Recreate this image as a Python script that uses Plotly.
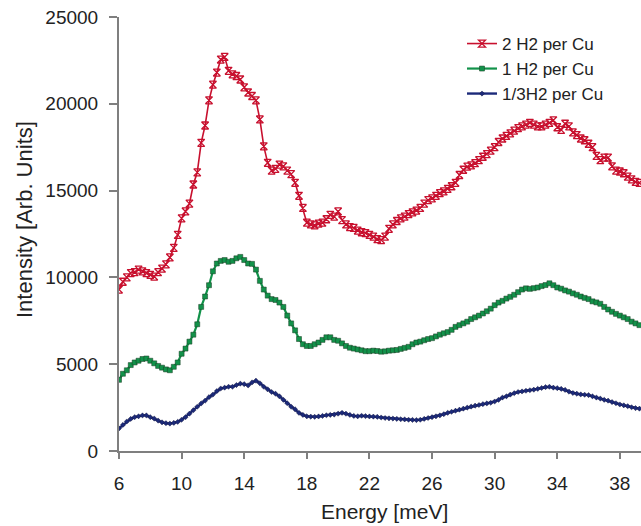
import plotly.graph_objects as go

energy = [
    6.0, 6.25, 6.5, 6.75, 7.0, 7.25, 7.5, 7.75,
    8.0, 8.25, 8.5, 8.75, 9.0, 9.25, 9.5, 9.75,
    10.0, 10.25, 10.5, 10.75, 11.0, 11.25, 11.5, 11.75,
    12.0, 12.25, 12.5, 12.75, 13.0, 13.25, 13.5, 13.75,
    14.0, 14.25, 14.5, 14.75, 15.0, 15.25, 15.5, 15.75,
    16.0, 16.25, 16.5, 16.75, 17.0, 17.25, 17.5, 17.75,
    18.0, 18.25, 18.5, 18.75, 19.0, 19.25, 19.5, 19.75,
    20.0, 20.25, 20.5, 20.75, 21.0, 21.25, 21.5, 21.75,
    22.0, 22.25, 22.5, 22.75, 23.0, 23.25, 23.5, 23.75,
    24.0, 24.25, 24.5, 24.75, 25.0, 25.25, 25.5, 25.75,
    26.0, 26.25, 26.5, 26.75, 27.0, 27.25, 27.5, 27.75,
    28.0, 28.25, 28.5, 28.75, 29.0, 29.25, 29.5, 29.75,
    30.0, 30.25, 30.5, 30.75, 31.0, 31.25, 31.5, 31.75,
    32.0, 32.25, 32.5, 32.75, 33.0, 33.25, 33.5, 33.75,
    34.0, 34.25, 34.5, 34.75, 35.0, 35.25, 35.5, 35.75,
    36.0, 36.25, 36.5, 36.75, 37.0, 37.25, 37.5, 37.75,
    38.0, 38.25, 38.5, 38.75, 39.0, 39.25,
]

h2_2_per_cu = [
    9300, 9750, 10000, 10250, 10300, 10450, 10350, 10250,
    10150, 10050, 10300, 10500, 10750, 11150, 11700, 12450,
    13400, 13800, 14250, 15350, 16050, 17750, 18750, 20200,
    21100, 21800, 22550, 22700, 21900, 21700, 21600, 21400,
    20950, 20650, 20450, 20200, 19100, 17550, 16600, 16150,
    16250, 16500, 16400, 16150, 15950, 15450, 14700, 14000,
    13150, 13050, 13000, 13100, 13150, 13350, 13600, 13500,
    13800, 13300, 13050, 12900, 12850, 12700, 12600, 12550,
    12450, 12350, 12200, 12150, 12350, 12800, 13050, 13250,
    13400, 13500, 13650, 13750, 13850, 14000, 14250, 14450,
    14550, 14700, 14850, 14950, 15100, 15250, 15450, 15900,
    16200, 16380, 16450, 16580, 16750, 16950, 17100, 17300,
    17500, 17800, 18000, 18150, 18300, 18450, 18600, 18700,
    18800, 18900, 18800, 18700, 18700, 18800, 18900, 19050,
    18650, 18500, 18850, 18700, 18350, 18200, 18000, 17900,
    17700, 17500, 17000, 16750, 16900, 16900, 16400, 16150,
    16100, 16000, 15800, 15650, 15500, 15450,
]

h2_1_per_cu = [
    4100, 4450, 4650, 4950, 5100, 5200, 5300, 5330,
    5200, 5050, 4900, 4800, 4700, 4650, 4850, 5100,
    5600, 5900, 6300, 6700, 7300, 8300, 8900, 9550,
    10350, 10800, 10950, 11000, 10900, 10950, 11100, 11180,
    11000, 10800, 10780, 10450, 9800, 9300, 8950, 8750,
    8700, 8550, 8300, 7800, 7350, 6950, 6450, 6150,
    6050, 6050, 6150, 6250, 6400, 6550, 6550, 6400,
    6350, 6200, 6050, 5950, 5900, 5850, 5800, 5750,
    5750, 5780, 5760, 5720, 5740, 5780, 5800, 5820,
    5880, 5940, 6000, 6150, 6250, 6300, 6380, 6450,
    6500, 6600, 6700, 6780, 6850, 6980, 7150, 7250,
    7350, 7450, 7600, 7700, 7800, 7920, 8050, 8200,
    8400, 8550, 8650, 8780, 8880, 9000, 9150, 9300,
    9370, 9340, 9380, 9420, 9500, 9560, 9660, 9550,
    9420, 9350, 9250, 9180, 9080, 9000, 8900, 8820,
    8750, 8620, 8560, 8480, 8300, 8150, 8020, 7900,
    7800, 7700, 7600, 7450, 7350, 7250,
]

h2_third_per_cu = [
    1300, 1500, 1700, 1850, 1950, 2000, 2050, 2050,
    1950, 1870, 1750, 1650, 1600, 1580, 1620, 1680,
    1800, 1950, 2150, 2350, 2550, 2740, 2900, 3100,
    3250, 3450, 3600, 3650, 3700, 3700, 3800, 3880,
    3850, 3780, 3950, 4050, 3900, 3700, 3550, 3400,
    3300, 3150, 2950, 2750, 2550, 2400, 2200, 2080,
    2000, 1980, 1970, 1990, 2020, 2060, 2080, 2100,
    2150, 2200, 2150, 2080, 2020, 2000, 2030, 2010,
    1990, 1980, 1970, 1930, 1900, 1880, 1870, 1850,
    1830, 1820, 1800, 1790, 1780, 1800, 1850, 1900,
    1950, 2000, 2050, 2120, 2200, 2260, 2320, 2380,
    2440, 2500, 2560, 2610, 2650, 2700, 2740, 2780,
    2850, 2950, 3080, 3150, 3250, 3330, 3400, 3430,
    3470, 3500, 3530, 3580, 3630, 3680, 3700, 3650,
    3620, 3580, 3520, 3420, 3340, 3300, 3260, 3240,
    3220, 3150, 3080, 3020, 2950, 2900, 2820, 2750,
    2680, 2630, 2580, 2520, 2470, 2440,
]

series_names = ["2 H2 per Cu", "1 H2 per Cu", "1/3H2 per Cu"]
x_ticks = [6, 10, 14, 18, 22, 26, 30, 34, 38]
y_ticks = [0, 5000, 10000, 15000, 20000, 25000]

assert len(energy) == len(h2_2_per_cu) == len(h2_1_per_cu) == len(h2_third_per_cu)

RED = "#c8102e"
GREEN = "#12924a"
BLUE = "#1c2a7a"

fig = go.Figure()
fig.add_trace(go.Scatter(
    x=energy, y=h2_2_per_cu, name=series_names[0], mode="lines+markers",
    legend="legend",
    line=dict(color=RED, width=1.6),
    marker=dict(symbol="hourglass-open", size=7, color=RED, line=dict(color=RED, width=1.3)),
))
fig.add_trace(go.Scatter(
    x=energy, y=h2_1_per_cu, name=series_names[1], mode="lines+markers",
    legend="legend2",
    line=dict(color=GREEN, width=2.2),
    marker=dict(symbol="square", size=5, color=GREEN, line=dict(color="#1a3a22", width=0.5)),
))
fig.add_trace(go.Scatter(
    x=energy, y=h2_third_per_cu, name=series_names[2], mode="lines+markers",
    legend="legend3",
    line=dict(color=BLUE, width=2.4),
    marker=dict(symbol="diamond", size=4, color=BLUE, line=dict(color="#111133", width=0.4)),
))

axis_color = "#7f7f7f"
font_family = "Liberation Sans, Arial, sans-serif"
text_color = "#222222"

# plot area in pixels: x 119..641, y 17..451
plot_h = 434.0
plot_w = 522.0


def legend_box(y_px):
    return dict(
        x=(462 - 119) / plot_w, y=(451 - y_px) / plot_h,
        xanchor="left", yanchor="middle",
        bgcolor="rgba(255,255,255,0)", borderwidth=0,
        font=dict(size=17, color=text_color, family=font_family),
        itemwidth=30,
    )


fig.update_layout(
    width=641, height=526,
    margin=dict(l=119, r=0, t=17, b=75, autoexpand=False),
    paper_bgcolor="white", plot_bgcolor="white",
    font=dict(family=font_family, color=text_color, size=19),
    showlegend=True,
    legend=legend_box(44),
    legend2=legend_box(69),
    legend3=legend_box(94),
    xaxis=dict(
        range=[6, 39.35], tickvals=x_ticks, ticktext=[str(v) for v in x_ticks],
        showgrid=False, zeroline=False, automargin=False,
        showline=True, linecolor=axis_color, linewidth=2,
        ticks="outside", ticklen=6, tickcolor=axis_color, tickwidth=1.5,
        tickfont=dict(size=19, color=text_color), ticklabelstandoff=8,
    ),
    yaxis=dict(
        range=[0, 25000], tickvals=y_ticks, ticktext=[str(v) for v in y_ticks],
        showgrid=False, zeroline=False, automargin=False,
        showline=True, linecolor=axis_color, linewidth=2,
        ticks="outside", ticklen=8, tickcolor=axis_color, tickwidth=1.5,
        tickfont=dict(size=19, color=text_color), ticklabelstandoff=7,
    ),
    annotations=[
        dict(text="Energy [meV]", xref="paper", yref="paper",
             x=(384 - 119) / plot_w, y=(451 - 511) / plot_h,
             xanchor="center", yanchor="middle", showarrow=False,
             font=dict(size=21, color=text_color)),
        dict(text="Intensity [Arb. Units]", xref="paper", yref="paper",
             x=(24 - 119) / plot_w, y=(451 - 220) / plot_h, textangle=-90,
             xanchor="center", yanchor="middle", showarrow=False,
             font=dict(size=22, color=text_color)),
    ],
)

fig.write_html(
    "out.html",
    config={"displayModeBar": False},
    post_script="document.body.style.margin='0';document.body.style.padding='0';document.body.style.overflow='hidden';",
)
